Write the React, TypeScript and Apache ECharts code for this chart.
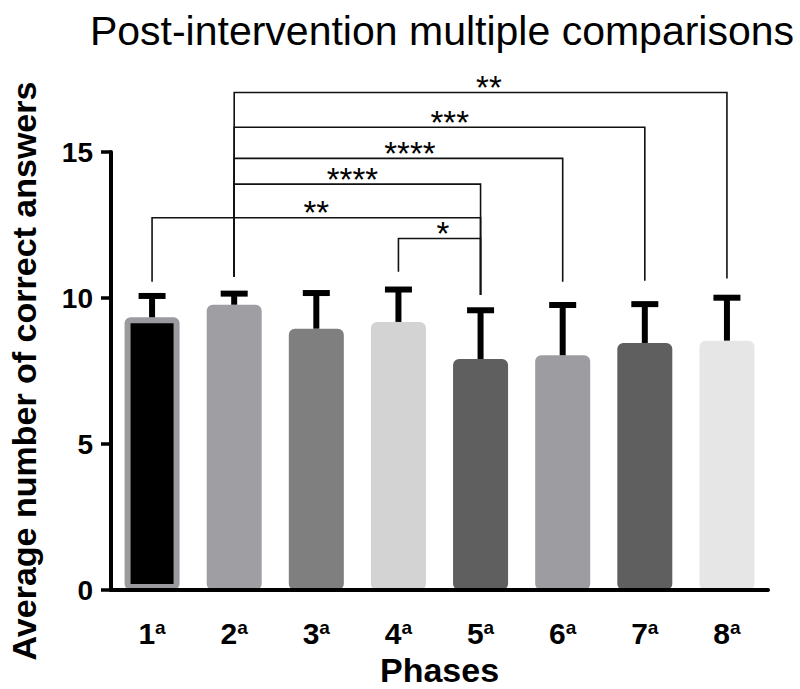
import React, { useEffect, useRef } from 'react';
import * as echarts from 'echarts';

const FONT = '"Liberation Sans", Arial, Helvetica, sans-serif';

const categories = ['1', '2', '3', '4', '5', '6', '7', '8'];
const means = [9.34, 9.77, 8.95, 9.18, 7.91, 8.04, 8.46, 8.54];
const sds = [0.73, 0.38, 1.22, 1.11, 1.67, 1.72, 1.33, 1.47];
const barFill = ['#000000', '#9f9fa3', '#7f7f7f', '#d3d3d3', '#5f5f5f', '#9d9da1', '#5f5f5f', '#e6e6e6'];
const barEdge = ['#9b9b9f', '#9f9fa3', '#7f7f7f', '#d3d3d3', '#5f5f5f', '#9d9da1', '#5f5f5f', '#e6e6e6'];

// significance brackets
const compFrom = [0, 1, 1, 1, 1, 3];
const compTo = [4, 4, 5, 6, 7, 4];
const compLevel = [12.75, 13.9, 14.78, 15.85, 17.04, 12.04];
const compLabel = ['**', '****', '****', '***', '**', '*'];
const compLabelFrac = [0.5, 0.48, 0.535, 0.525, 0.517, 0.543];
const bracketFoot = [10.56, 10.73, 10.6, 10.9, 10.1, 10.56, 10.59, 10.67];

const titleText = 'Post-intervention multiple comparisons';
const yName = 'Average number of correct answers';
const xName = 'Phases';

export default function App() {
  const ref = useRef<HTMLDivElement>(null);
  useEffect(() => {
    const chart = echarts.init(ref.current!, null, { renderer: 'svg' });

    const barData = means.map((m, i) => ({
      value: m,
      itemStyle: {
        color: barFill[i],
        borderColor: barEdge[i],
        borderWidth: 6,
        borderRadius: 3,
      },
    }));

    const errData = means.map((m, i) => [i, m, m + sds[i]]);
    const compData = compFrom.map((a, i) => [a, compTo[i], compLevel[i], bracketFoot[a], bracketFoot[compTo[i]]]);

    const option: any = {
      animation: false,
      backgroundColor: '#ffffff',
      graphic: [
        {
          type: 'text',
          x: 442,
          y: 51,
          style: {
            text: titleText,
            fontSize: 41,
            fontFamily: FONT,
            fill: '#000',
            align: 'center',
            verticalAlign: 'bottom',
          },
        },
      ],
      grid: { left: 111, right: 32, top: 152, bottom: 99, containLabel: false, outerBoundsMode: 'none' },
      xAxis: {
        type: 'category',
        data: categories,
        z: 10,
        axisLine: { lineStyle: { color: '#000', width: 4 } },
        axisTick: { alignWithLabel: true, length: 11, lineStyle: { color: '#000', width: 3.5 } },
        axisLabel: {
          margin: 28,
          formatter: (v: string) => `{n|${v}}{s|a}`,
          rich: {
            n: { fontSize: 30, fontWeight: 'bold', fontFamily: FONT, color: '#000', lineHeight: 30 },
            s: { fontSize: 19, fontWeight: 'bold', fontFamily: FONT, color: '#000', verticalAlign: 'top', lineHeight: 19 },
          },
        },
        name: xName,
        nameLocation: 'middle',
        nameGap: 58,
        nameTextStyle: { fontSize: 34, fontWeight: 'bold', fontFamily: FONT, color: '#000' },
      },
      yAxis: {
        type: 'value',
        min: 0,
        max: 15,
        interval: 5,
        z: 10,
        splitLine: { show: false },
        axisLine: { show: true, lineStyle: { color: '#000', width: 4 } },
        axisTick: { show: true, length: 10, lineStyle: { color: '#000', width: 3.5 } },
        axisLabel: { margin: 18, fontSize: 28, fontWeight: 'bold', fontFamily: FONT, color: '#000' },
        name: yName,
        nameLocation: 'middle',
        nameGap: 70,
        nameTextStyle: { fontSize: 34, fontWeight: 'bold', fontFamily: FONT, color: '#000' },
      },
      series: [
        {
          type: 'bar',
          data: barData,
          barWidth: 55,
          z: 2,
        },
        {
          type: 'custom',
          data: errData,
          z: 3,
          clip: false,
          renderItem: (params: any, api: any) => {
            const x = api.value(0);
            const m = api.value(1);
            const t = api.value(2);
            const p0 = api.coord([x, m]);
            const p1 = api.coord([x, t]);
            return {
              type: 'group',
              children: [
                { type: 'line', shape: { x1: p0[0], y1: p0[1], x2: p1[0], y2: p1[1] }, style: { stroke: '#000', lineWidth: 6 } },
                { type: 'line', shape: { x1: p1[0] - 13.5, y1: p1[1], x2: p1[0] + 13.5, y2: p1[1] }, style: { stroke: '#000', lineWidth: 6 } },
              ],
            };
          },
        },
        {
          type: 'custom',
          data: compData,
          z: 4,
          clip: false,
          renderItem: (params: any, api: any) => {
            const i = params.dataIndex;
            const a = api.value(0);
            const b = api.value(1);
            const lev = api.value(2);
            const fa = api.value(3);
            const fb = api.value(4);
            const pA = api.coord([a, fa]);
            const pAL = api.coord([a, lev]);
            const pBL = api.coord([b, lev]);
            const pB = api.coord([b, fb]);
            const f = compLabelFrac[i];
            return {
              type: 'group',
              children: [
                {
                  type: 'polyline',
                  shape: { points: [pA, pAL, pBL, pB] },
                  style: { stroke: '#111', lineWidth: 1.6, fill: null },
                },
                {
                  type: 'text',
                  x: pAL[0] + (pBL[0] - pAL[0]) * f,
                  y: pAL[1] - 5,
                  style: {
                    text: compLabel[i],
                    fontSize: 33,
                    lineHeight: 20,
                    fontFamily: FONT,
                    fill: '#000',
                    align: 'center',
                    verticalAlign: 'middle',
                  },
                },
              ],
            };
          },
        },
      ],
    };

    chart.setOption(option);
    return () => chart.dispose();
  }, []);
  return (
    <div
      ref={ref}
      style={{ position: 'fixed', left: 0, top: 0, width: 800, height: 689, background: '#fff' }}
    />
  );
}
